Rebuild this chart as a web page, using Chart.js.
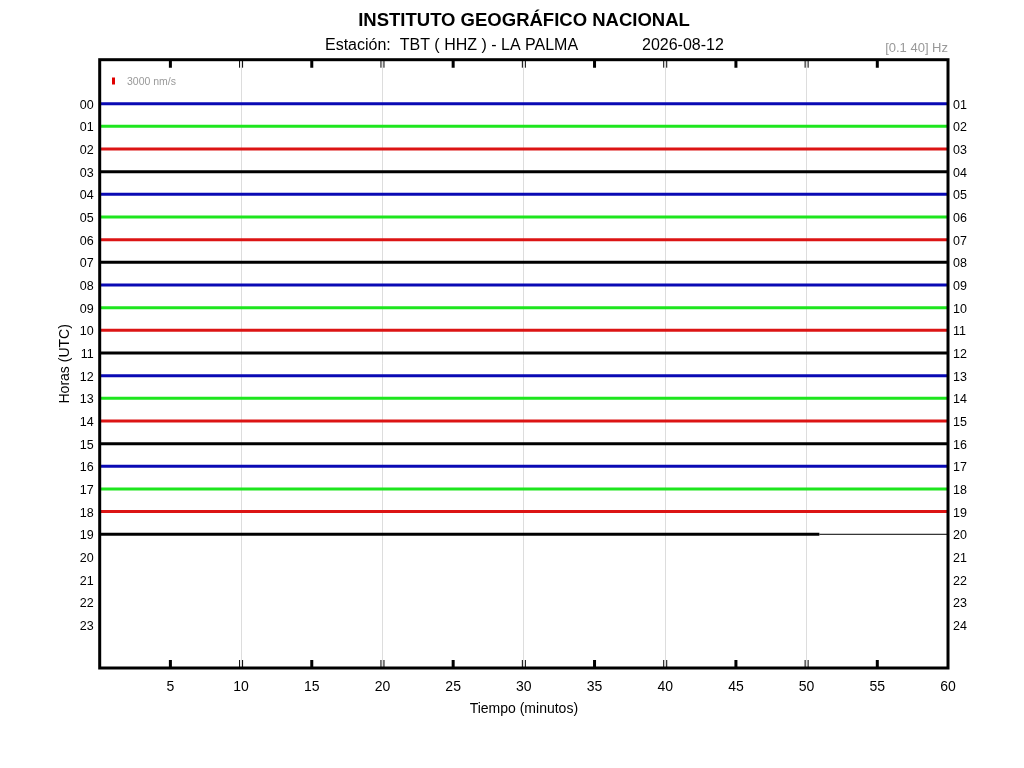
<!DOCTYPE html>
<html>
<head>
<meta charset="utf-8">
<script src="https://cdn.jsdelivr.net/npm/chart.js@4"></script>
<style>
  html, body { margin: 0; padding: 0; background: #fff; }
  canvas { display: block; }
</style>
</head>
<body>
<canvas id="heliChart" width="1024" height="768"></canvas>
<script>
// row labels (hours), left and right side
const hourLabelsLeft = ["00","01","02","03","04","05","06","07","08","09","10","11",
                        "12","13","14","15","16","17","18","19","20","21","22","23"];
const hourLabelsRight = ["01","02","03","04","05","06","07","08","09","10","11","12",
                         "13","14","15","16","17","18","19","20","21","22","23","24"];
// minute ticks
const minuteTicks = [5, 10, 15, 20, 25, 30, 35, 40, 45, 50, 55, 60];
// recorded hours and the minute where each trace ends
const traceHours = [0,1,2,3,4,5,6,7,8,9,10,11,12,13,14,15,16,17,18,19];
const traceEndMinute = [60,60,60,60,60,60,60,60,60,60,60,60,60,60,60,60,60,60,60,50.9];

const traceColors = ["#0a0ab4", "#1ee61e", "#dc1414", "#000000"];

Chart.defaults.font.family = "'Liberation Sans', Arial, sans-serif";
Chart.defaults.color = "#000";

const datasets = traceHours.map((h, i) => ({
  data: [{ x: 0, y: h }, { x: traceEndMinute[i], y: h }],
  borderColor: traceColors[i % 4],
  borderWidth: 3
}));
// flat line after the last sample of the current hour
const last = traceHours.length - 1;
datasets.push({
  data: [{ x: traceEndMinute[last], y: traceHours[last] }, { x: 60, y: traceHours[last] }],
  borderColor: "#000",
  borderWidth: 1
});

const frame = {
  id: "frame",
  afterDraw(chart) {
    const { ctx, chartArea: a, scales } = chart;
    ctx.save();
    // header texts
    ctx.fillStyle = "#000";
    ctx.textBaseline = "middle";
    ctx.textAlign = "center";
    ctx.font = "bold 18.5px 'Liberation Sans', Arial";
    ctx.fillText("INSTITUTO GEOGRÁFICO NACIONAL", 524, 20.5);
    ctx.textAlign = "left";
    ctx.font = "16px 'Liberation Sans', Arial";
    ctx.fillText("Estación:  TBT ( HHZ ) - LA PALMA", 325, 45.5);
    ctx.fillText("2026-08-12", 642, 45.5);
    ctx.textAlign = "right";
    ctx.fillStyle = "#999";
    ctx.font = "13px 'Liberation Sans', Arial";
    ctx.fillText("[0.1 40] Hz", 948, 48);
    // amplitude scale
    ctx.fillStyle = "#e00000";
    ctx.fillRect(112, 77.5, 3, 7);
    ctx.fillStyle = "#999";
    ctx.textAlign = "left";
    ctx.font = "10.5px 'Liberation Sans', Arial";
    ctx.fillText("3000 nm/s", 127, 82);

    // inward tick marks on top and bottom
    ctx.strokeStyle = "#000";
    minuteTicks.forEach(v => {
      if (v === 60) return;
      const px = scales.x.getPixelForValue(v);
      if (v % 10 === 0) {
        ctx.lineWidth = 1;
        [px - 1.5, px + 1.5].forEach(xx => {
          ctx.beginPath();
          ctx.moveTo(xx, a.top); ctx.lineTo(xx, a.top + 8);
          ctx.moveTo(xx, a.bottom); ctx.lineTo(xx, a.bottom - 8);
          ctx.stroke();
        });
      } else {
        ctx.lineWidth = 3;
        ctx.beginPath();
        ctx.moveTo(px, a.top); ctx.lineTo(px, a.top + 8);
        ctx.moveTo(px, a.bottom); ctx.lineTo(px, a.bottom - 8);
        ctx.stroke();
      }
    });
    // box
    ctx.lineWidth = 3;
    ctx.strokeRect(a.left, a.top, a.right - a.left, a.bottom - a.top);
    ctx.restore();
  }
};

new Chart(document.getElementById("heliChart").getContext("2d"), {
  type: "line",
  data: { datasets },
  options: {
    responsive: false,
    animation: false,
    layout: { padding: { top: 59.7, right: 0, bottom: 0, left: 0 } },
    elements: { point: { radius: 0 }, line: { tension: 0 } },
    plugins: { legend: { display: false }, tooltip: { enabled: false } },
    scales: {
      x: {
        type: "linear",
        min: 0,
        max: 60,
        afterBuildTicks: s => { s.ticks = minuteTicks.map(v => ({ value: v })); },
        afterFit: s => { s.height = 100; },
        ticks: { font: { size: 14 }, padding: 11, maxRotation: 0 },
        grid: {
          drawTicks: false,
          color: c => (c.tick && c.tick.value % 10 === 0 && c.tick.value < 60) ? "#dddddd" : "rgba(0,0,0,0)"
        },
        border: { display: false },
        title: { display: true, text: "Tiempo (minutos)", font: { size: 14 }, padding: { bottom: 50.6 } }
      },
      y: {
        type: "linear",
        position: "left",
        reverse: true,
        min: -1.94,
        max: 24.9,
        afterBuildTicks: s => { s.ticks = hourLabelsLeft.map((_, i) => ({ value: i })); },
        afterFit: s => { s.width = 99.7; },
        ticks: { font: { size: 12.5 }, padding: 6, labelOffset: 1.5, callback: v => hourLabelsLeft[v] },
        grid: { display: false, drawTicks: false },
        border: { display: false },
        title: { display: true, text: "Horas (UTC)", font: { size: 14 }, padding: { top: 56.6 } }
      },
      y2: {
        type: "linear",
        position: "right",
        reverse: true,
        min: -1.94,
        max: 24.9,
        afterBuildTicks: s => { s.ticks = hourLabelsRight.map((_, i) => ({ value: i })); },
        afterFit: s => { s.width = 76; },
        ticks: { font: { size: 12.5 }, padding: 5, labelOffset: 1.5, callback: v => hourLabelsRight[v] },
        grid: { display: false, drawTicks: false },
        border: { display: false }
      }
    }
  },
  plugins: [frame]
});
</script>
</body>
</html>
